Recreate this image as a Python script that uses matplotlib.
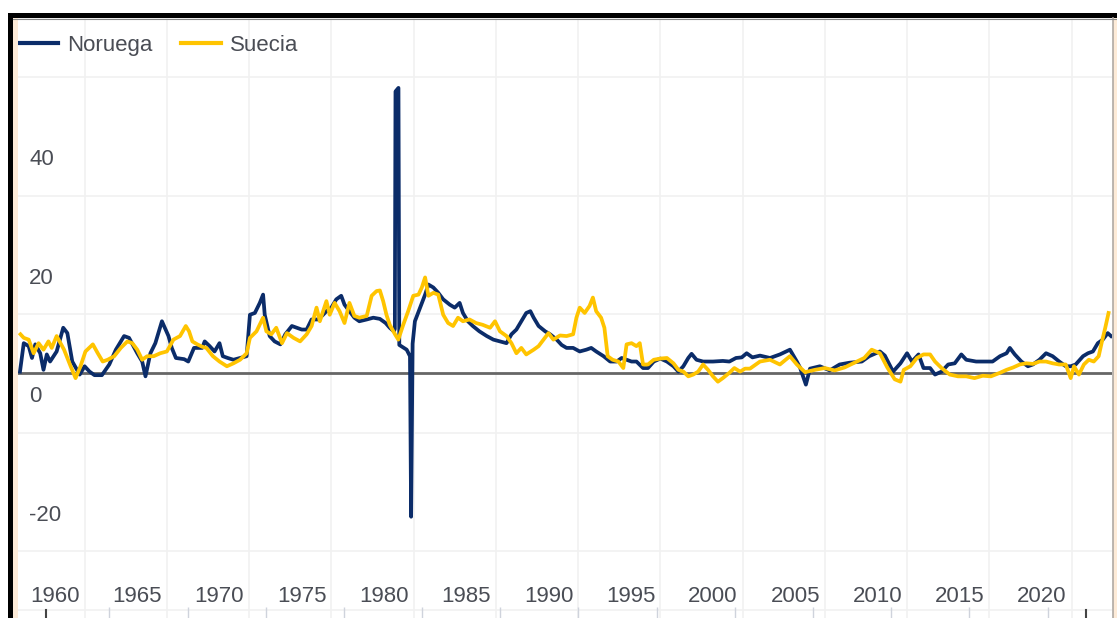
import matplotlib
matplotlib.use("Agg")
from matplotlib import pyplot as plt
from matplotlib.transforms import ScaledTranslation
from matplotlib.lines import Line2D
from matplotlib.patches import Rectangle

# Norway series (decimal year, value)
nor_year = [1957.87, 1958.1, 1958.4, 1958.6, 1958.8, 1959.1, 1959.3, 1959.5, 1959.7, 1960.1,
            1960.5, 1960.75, 1961.05, 1961.5, 1961.8, 1962.1, 1962.4, 1962.85, 1963.3, 1963.7,
            1964.2, 1964.5, 1965.0, 1965.3, 1965.5, 1965.8, 1966.1, 1966.5, 1966.9, 1967.1,
            1967.35, 1967.85, 1968.1, 1968.45, 1968.95, 1969.1, 1969.4, 1969.7, 1970.0, 1970.2,
            1970.5, 1970.85, 1971.25, 1971.65, 1971.85, 1972.15, 1972.45, 1972.65, 1972.75, 1973.05,
            1973.35, 1973.7, 1974.0, 1974.4, 1974.7, 1975.0, 1975.3, 1975.6, 1976.0, 1976.3,
            1976.5, 1976.8, 1977.1, 1977.4, 1977.6, 1977.9, 1978.2, 1978.5, 1978.95, 1979.35,
            1979.75, 1980.1, 1980.35, 1980.6, 1980.66, 1980.7, 1980.88, 1980.93, 1981.38, 1981.58,
            1981.65, 1981.74, 1981.88, 1982.2, 1982.5, 1982.7, 1983.0, 1983.3, 1983.6, 1984.0,
            1984.3, 1984.6, 1984.8, 1985.1, 1985.4, 1985.8, 1986.25, 1986.65, 1987.05, 1987.45,
            1987.75, 1988.05, 1988.35, 1988.65, 1988.9, 1989.1, 1989.4, 1989.8, 1990.1, 1990.5,
            1990.8, 1991.1, 1991.5, 1991.9, 1992.3, 1992.6, 1992.9, 1993.35, 1993.75, 1994.15,
            1994.45, 1994.75, 1995.05, 1995.35, 1995.75, 1996.05, 1996.4, 1996.8, 1997.2, 1997.6,
            1997.9, 1998.2, 1998.5, 1998.7, 1999.0, 1999.4, 2000.0, 2000.6, 2001.0, 2001.4,
            2001.75, 2002.05, 2002.4, 2002.86, 2003.47, 2004.07, 2004.68, 2005.1, 2005.29, 2005.65,
            2005.9, 2006.5, 2007.1, 2007.7, 2008.3, 2009.05, 2009.5, 2010.15, 2010.45, 2010.95,
            2011.4, 2011.8, 2012.1, 2012.5, 2012.8, 2013.2, 2013.5, 2013.9, 2014.3, 2014.7,
            2015.1, 2015.4, 2016.0, 2016.6, 2017.0, 2017.45, 2017.85, 2018.05, 2018.35, 2018.75,
            2019.15, 2019.45, 2019.85, 2020.25, 2020.65, 2021.05, 2021.45, 2021.75, 2022.05, 2022.5,
            2022.8, 2023.1, 2023.4, 2023.7, 2024.0, 2024.2]
nor_val = [0.3, 5.1, 4.6, 2.6, 4.9, 3.4, 0.6, 3.2, 2.0, 3.7,
           7.7, 6.8, 2.0, -0.2, 1.2, 0.3, -0.3, -0.3, 1.5, 4.0,
           6.3, 6.0, 3.4, 2.0, -0.5, 3.4, 5.1, 8.8, 6.3, 4.3,
           2.6, 2.4, 2.0, 4.3, 4.3, 5.4, 4.6, 3.7, 5.1, 2.9,
           2.6, 2.3, 2.6, 2.9, 9.9, 10.2, 11.9, 13.3, 9.9, 6.3,
           5.4, 4.9, 6.6, 8.0, 7.7, 7.4, 7.4, 9.1, 9.1, 9.9,
           10.5, 11.1, 12.5, 13.1, 11.6, 10.5, 9.4, 8.8, 9.1, 9.4,
           9.2, 8.5, 7.7, 7.1, 7.5, 47.6, 48.2, 4.8, 4.0, 2.9,
           -24.2, 5.0, 8.8, 11.1, 13.3, 15.0, 14.5, 13.6, 12.5, 11.6,
           11.1, 11.9, 10.2, 8.8, 8.0, 7.1, 6.3, 5.7, 5.4, 5.1,
           6.6, 7.4, 8.8, 10.2, 10.5, 9.4, 8.0, 7.1, 6.6, 5.7,
           4.8, 4.3, 4.3, 3.7, 4.0, 4.3, 3.7, 2.9, 2.0, 2.0,
           2.6, 2.3, 2.0, 2.0, 0.9, 0.9, 2.0, 2.5, 2.0, 1.2,
           0.3, 1.2, 2.6, 3.3, 2.3, 2.0, 2.0, 2.1, 2.0, 2.6,
           2.7, 3.4, 2.7, 3.0, 2.6, 3.2, 4.0, 2.0, 1.0, -1.9,
           0.8, 1.2, 0.5, 1.5, 1.8, 2.0, 2.9, 3.7, 3.0, 0.3,
           1.7, 3.4, 2.0, 3.2, 0.9, 0.9, -0.2, 0.3, 1.5, 1.7,
           3.2, 2.3, 2.0, 2.0, 2.0, 2.9, 3.4, 4.3, 3.2, 2.0,
           1.2, 1.5, 2.3, 3.4, 2.9, 2.0, 1.2, 1.2, 1.5, 2.9,
           3.4, 3.7, 5.1, 5.7, 6.8, 6.3]

# Sweden series (decimal year, value)
swe_year = [1957.9, 1958.1, 1958.4, 1958.7, 1959.0, 1959.3, 1959.6, 1959.8, 1960.1, 1960.55,
            1960.95, 1961.25, 1961.55, 1961.85, 1962.3, 1962.6, 1962.9, 1963.2, 1963.6, 1964.0,
            1964.4, 1964.7, 1965.0, 1965.3, 1965.6, 1966.0, 1966.4, 1966.8, 1967.2, 1967.6,
            1967.95, 1968.15, 1968.35, 1968.65, 1968.95, 1969.2, 1969.6, 1970.0, 1970.45, 1970.85,
            1971.25, 1971.65, 1971.85, 1972.25, 1972.65, 1972.85, 1973.15, 1973.45, 1973.8, 1974.1,
            1974.5, 1974.9, 1975.3, 1975.6, 1975.9, 1976.1, 1976.5, 1976.7, 1977.0, 1977.3,
            1977.6, 1977.9, 1978.2, 1978.5, 1978.95, 1979.25, 1979.55, 1979.75, 1979.95, 1980.15,
            1980.35, 1980.67, 1980.87, 1981.17, 1981.47, 1981.78, 1982.1, 1982.3, 1982.5, 1982.7,
            1983.0, 1983.3, 1983.6, 1983.9, 1984.2, 1984.5, 1984.8, 1985.2, 1985.6, 1986.0,
            1986.45, 1986.75, 1987.05, 1987.45, 1987.75, 1988.05, 1988.35, 1988.65, 1989.1, 1989.4,
            1989.7, 1990.0, 1990.3, 1990.7, 1991.1, 1991.5, 1991.7, 1991.9, 1992.2, 1992.5,
            1992.7, 1992.9, 1993.2, 1993.4, 1993.6, 1993.9, 1994.25, 1994.55, 1994.75, 1995.05,
            1995.35, 1995.55, 1995.75, 1996.05, 1996.4, 1996.8, 1997.2, 1997.6, 1997.9, 1998.2,
            1998.5, 1998.8, 1999.1, 1999.4, 1999.7, 2000.0, 2000.3, 2000.6, 2001.0, 2001.3,
            2001.65, 2001.95, 2002.25, 2002.86, 2003.47, 2004.07, 2004.68, 2005.1, 2005.6, 2006.2,
            2006.8, 2007.4, 2008.0, 2008.6, 2009.2, 2009.65, 2010.15, 2010.6, 2011.05, 2011.4,
            2011.6, 2012.0, 2012.4, 2012.8, 2013.2, 2013.5, 2013.9, 2014.4, 2014.9, 2015.4,
            2015.9, 2016.4, 2016.9, 2017.45, 2017.85, 2018.25, 2018.65, 2019.05, 2019.45, 2019.85,
            2020.25, 2020.65, 2021.05, 2021.45, 2021.75, 2021.95, 2022.25, 2022.55, 2022.85, 2023.15,
            2023.45, 2023.65, 2023.85, 2024.05]
swe_val = [6.6, 6.0, 5.7, 3.4, 5.1, 4.0, 5.4, 4.3, 6.3, 4.0,
           1.2, -0.8, 1.2, 3.7, 4.9, 3.4, 2.0, 2.3, 2.9, 4.3,
           5.4, 5.1, 4.0, 2.3, 2.9, 2.9, 3.4, 3.7, 5.7, 6.3,
           8.0, 7.1, 5.4, 4.9, 4.5, 4.3, 2.9, 2.0, 1.2, 1.7,
           2.3, 3.4, 6.0, 7.1, 9.4, 7.1, 6.6, 7.7, 5.1, 6.8,
           6.0, 5.4, 6.6, 8.0, 11.1, 8.8, 12.2, 9.9, 11.9, 10.5,
           8.5, 11.9, 9.7, 9.4, 9.7, 13.1, 13.9, 14.0, 12.2, 9.9,
           8.2, 6.6, 5.7, 8.2, 10.5, 13.1, 13.3, 14.5, 16.2, 13.1,
           13.6, 13.3, 9.9, 8.5, 8.0, 9.4, 8.8, 9.1, 8.5, 8.2,
           7.7, 8.8, 7.1, 6.3, 5.1, 3.4, 4.3, 3.2, 4.0, 4.6,
           5.7, 6.8, 5.7, 6.4, 6.3, 6.6, 9.4, 11.1, 10.2, 11.4,
           12.8, 10.5, 9.4, 7.7, 2.9, 2.3, 2.0, 0.9, 4.9, 5.1,
           4.6, 5.1, 1.5, 1.5, 2.3, 2.5, 2.6, 1.7, 0.6, 0.3,
           -0.5, -0.2, 0.3, 1.5, 0.6, -0.5, -1.4, -0.8, 0.1, 0.9,
           0.3, 0.8, 0.8, 2.0, 2.3, 1.5, 2.9, 1.5, 0.2, 0.6,
           0.9, 0.5, 1.0, 1.8, 2.6, 4.0, 3.4, 1.0, -1.0, -1.4,
           0.6, 1.2, 2.6, 3.2, 3.2, 2.0, 0.9, -0.2, -0.5, -0.5,
           -0.8, -0.4, -0.5, 0.1, 0.6, 1.0, 1.5, 1.7, 1.6, 2.0,
           2.0, 1.7, 1.5, 1.5, -0.8, 1.2, -0.2, 1.5, 2.3, 2.0,
           2.9, 5.4, 7.7, 10.2]

series_names = ['Noruega', 'Suecia']
series_colors = ['#0b2c69', '#ffc400']

x_labels = list(range(1960, 2021, 5))
y_labels = [-20, 0, 20, 40]
y_grid = list(range(-40, 61, 10))
x_grid = [y + 1.8 for y in range(1960, 2025, 5)]

W, H = 1117, 618
text_color = '#4a4d55'
fsize = 16
plt.rcParams['font.family'] = ['Liberation Sans', 'DejaVu Sans']

fig = plt.figure(figsize=(W / 100, H / 100), dpi=100)
fig.patch.set_facecolor('white')

# main plotting area (bottom is cut off in the screenshot)
ax = fig.add_axes([18 / W, 0, (1112 - 18) / W, 600 / H])
ax.set_xlim(1957.75, 2024.26)
ax.set_ylim(-41.3, 59.6)
for s in ax.spines.values():
    s.set_visible(False)

# faint grid
ax.set_yticks(y_grid, minor=True)
ax.set_xticks(x_grid, minor=True)
ax.grid(True, which='minor', color='#f1f1f1', linewidth=1.2)
ax.tick_params(which='minor', length=0)

# zero line
ax.axhline(0, color='#666666', linewidth=2, zorder=2)

ax.plot(nor_year, nor_val, color=series_colors[0], linewidth=2.7, label=series_names[0], zorder=3)
ax.plot(swe_year, swe_val, color=series_colors[1], linewidth=2.7, label=series_names[1], zorder=4)

# tick labels drawn inside the plot
ax.set_xticks(x_labels)
ax.set_xticklabels([str(v) for v in x_labels])
ax.tick_params(axis='x', which='major', length=0, pad=-23, labelsize=fsize, labelcolor=text_color)
ax.set_yticks(y_labels)
ax.set_yticklabels([str(v) for v in y_labels])
ax.tick_params(axis='y', which='major', length=0, pad=-8, labelsize=fsize, labelcolor=text_color)
offset = ScaledTranslation(0, -21 / 100, fig.dpi_scale_trans)
for lab in ax.get_yticklabels():
    lab.set_horizontalalignment('left')
    lab.set_transform(lab.get_transform() + offset)

leg = ax.legend(loc='upper left', bbox_to_anchor=(0.0, 1 - 17 / 600), ncol=2, frameon=False,
                fontsize=fsize, handlelength=1.8, handletextpad=0.4, columnspacing=1.3,
                borderaxespad=0, borderpad=0)
for t in leg.get_texts():
    t.set_color(text_color)
for h in leg.get_lines():
    h.set_linewidth(3)

# navigator ticks along the bottom edge
nav = fig.add_axes([46 / W, 0, (1086 - 46) / W, 8 / H])
nav.set_xlim(1957.75, 2024.26)
nav.set_ylim(0, 1)
nav.patch.set_alpha(0)
nav.set_yticks([])
nav.set_xticks(x_grid)
nav.set_xticklabels([])
nav.tick_params(axis='x', direction='in', length=8, color='#cfd3dc', width=1)
for k in ['top', 'bottom']:
    nav.spines[k].set_visible(False)
nav.spines['left'].set_color('#444444')
nav.spines['right'].set_color('#444444')
nav.spines['left'].set_linewidth(1.5)
nav.spines['right'].set_linewidth(1.5)

# screenshot frame: black bars top and left, beige strips at the sides
fig.patches.append(Rectangle((8 / W, 1 - 18 / H), 1 - 8 / W, 5 / H, transform=fig.transFigure,
                             facecolor='black', edgecolor='none', zorder=10))
fig.patches.append(Rectangle((8 / W, 0), 5 / W, 1 - 13 / H, transform=fig.transFigure,
                             facecolor='black', edgecolor='none', zorder=10))
fig.patches.append(Rectangle((13 / W, 0), 5 / W, 1 - 18 / H, transform=fig.transFigure,
                             facecolor='#fdebd8', edgecolor='none', zorder=10))
fig.patches.append(Rectangle((1113 / W, 0), 4 / W, 1 - 18 / H, transform=fig.transFigure,
                             facecolor='#fdebd8', edgecolor='none', zorder=10))
fig.lines.append(Line2D([1112.5 / W, 1112.5 / W], [0, 1 - 18 / H], transform=fig.transFigure,
                        color='#b0aaa4', linewidth=1.2, zorder=11))
fig.lines.append(Line2D([13 / W, 1], [1 - 18.5 / H, 1 - 18.5 / H], transform=fig.transFigure,
                        color='#888888', linewidth=0.8, zorder=11))

plt.savefig('out.png', dpi=100)
plt.close(fig)
